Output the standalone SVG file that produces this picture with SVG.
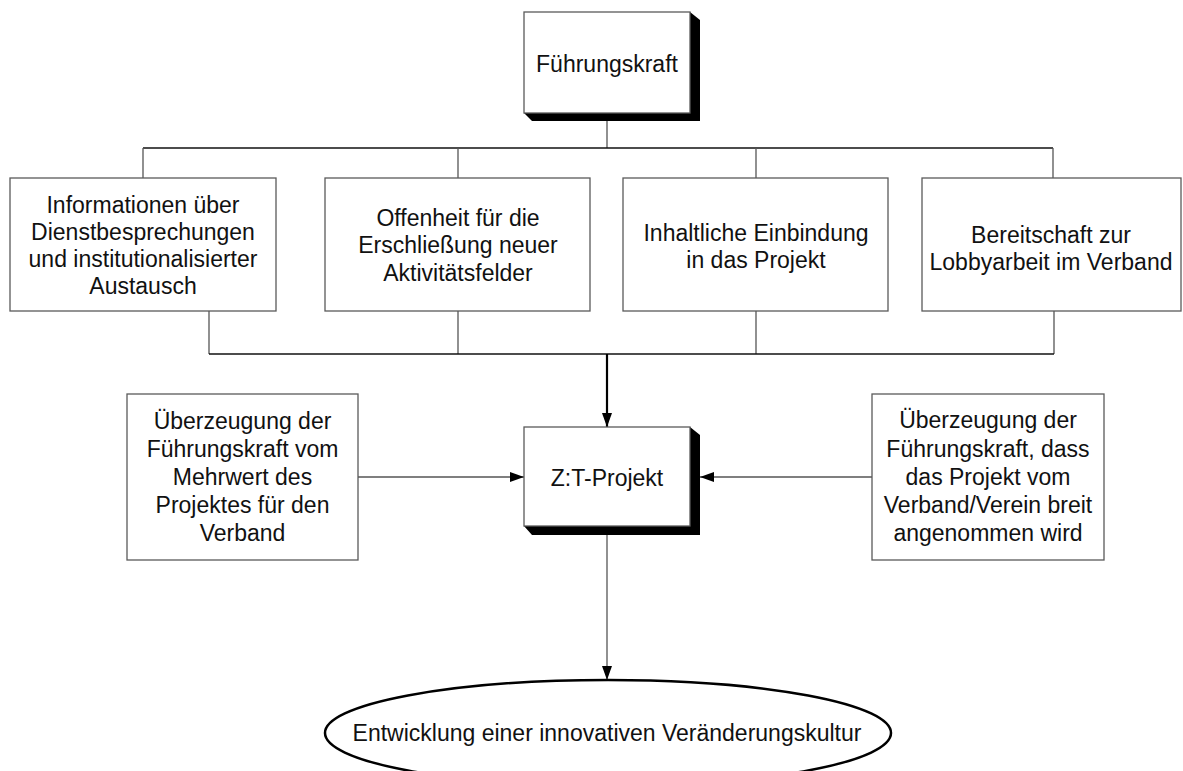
<svg xmlns="http://www.w3.org/2000/svg" width="1183" height="771" viewBox="0 0 1183 771">
<style>
.box{fill:#fff;stroke:#5a5a5a;stroke-width:1.3}
.shadow{fill:#000}
.t{font-family:"Liberation Sans",Arial,sans-serif;font-size:23px;fill:#111;text-anchor:middle}
.ln{fill:none;stroke:#555;stroke-width:1.3}
.hl{fill:none;stroke:#111;stroke-width:1.3}
.thick{fill:none;stroke:#000;stroke-width:2.2}
</style>
<defs>
<marker id="ah" markerWidth="14" markerHeight="10" refX="14" refY="5" orient="auto" markerUnits="userSpaceOnUse">
<path d="M0,0 L14,5 L0,10 Z" fill="#000"/>
</marker>
</defs>
<g id="connectors">
<line class="ln" x1="607" y1="121" x2="607" y2="148"/>
<line class="hl" x1="143" y1="148" x2="1053" y2="148"/>
<line class="ln" x1="143" y1="148" x2="143" y2="178"/>
<line class="ln" x1="458" y1="148" x2="458" y2="178"/>
<line class="ln" x1="756" y1="148" x2="756" y2="178"/>
<line class="ln" x1="1053" y1="148" x2="1053" y2="178"/>
<line class="ln" x1="209" y1="311" x2="209" y2="354"/>
<line class="ln" x1="458" y1="311" x2="458" y2="354"/>
<line class="ln" x1="756" y1="311" x2="756" y2="354"/>
<line class="ln" x1="1054" y1="311" x2="1054" y2="354"/>
<line class="hl" x1="209" y1="354" x2="1054" y2="354"/>
<line class="thick" x1="607" y1="354" x2="607" y2="427" marker-end="url(#ah)"/>
<line class="ln" x1="358" y1="477" x2="524" y2="477" marker-end="url(#ah)"/>
<line class="ln" x1="872" y1="477" x2="700" y2="477" marker-end="url(#ah)"/>
<line class="ln" x1="607" y1="535" x2="607" y2="680" marker-end="url(#ah)"/>
</g>
<g id="fuehrungskraft">
<polygon class="shadow" points="690,12 700,20 700,121 532,121 524,113 690,113"/>
<rect class="box" x="524" y="12" width="166" height="101"/>
<text class="t" x="607" y="72">Führungskraft</text>
</g>
<g id="informationen">
<rect class="box" x="10" y="178" width="266" height="133"/>
<text class="t" x="143" y="213">Informationen über</text>
<text class="t" x="143" y="240">Dienstbesprechungen</text>
<text class="t" x="143" y="267">und institutionalisierter</text>
<text class="t" x="143" y="294">Austausch</text>
</g>
<g id="offenheit">
<rect class="box" x="325" y="178" width="265" height="133"/>
<text class="t" x="458" y="226">Offenheit für die</text>
<text class="t" x="458" y="253">Erschließung neuer</text>
<text class="t" x="458" y="281">Aktivitätsfelder</text>
</g>
<g id="einbindung">
<rect class="box" x="623" y="178" width="265" height="133"/>
<text class="t" x="756" y="241">Inhaltliche Einbindung</text>
<text class="t" x="756" y="268">in das Projekt</text>
</g>
<g id="lobbyarbeit">
<rect class="box" x="922" y="178" width="259" height="133"/>
<text class="t" x="1051" y="243">Bereitschaft zur</text>
<text class="t" x="1051" y="270">Lobbyarbeit im Verband</text>
</g>
<g id="mehrwert">
<rect class="box" x="127" y="394" width="231" height="166"/>
<text class="t" x="242.5" y="429">Überzeugung der</text>
<text class="t" x="242.5" y="457">Führungskraft vom</text>
<text class="t" x="242.5" y="485">Mehrwert des</text>
<text class="t" x="242.5" y="513">Projektes für den</text>
<text class="t" x="242.5" y="541">Verband</text>
</g>
<g id="akzeptanz">
<rect class="box" x="872" y="394" width="232" height="166"/>
<text class="t" x="988" y="428">Überzeugung der</text>
<text class="t" x="988" y="457">Führungskraft, dass</text>
<text class="t" x="988" y="485">das Projekt vom</text>
<text class="t" x="988" y="513">Verband/Verein breit</text>
<text class="t" x="988" y="541">angenommen wird</text>
</g>
<g id="zt-projekt">
<polygon class="shadow" points="690,427 700,435 700,535 532,535 524,526 690,526"/>
<rect class="box" x="524" y="427" width="166" height="99"/>
<text class="t" x="607" y="486">Z:T-Projekt</text>
</g>
<g id="veraenderungskultur">
<ellipse cx="608" cy="733" rx="283" ry="53" fill="#fff" stroke="#000" stroke-width="2.5"/>
<text class="t" x="607" y="741">Entwicklung einer innovativen Veränderungskultur</text>
</g>
</svg>
